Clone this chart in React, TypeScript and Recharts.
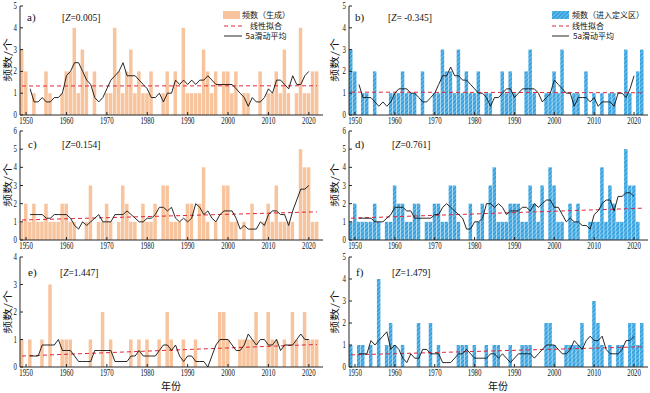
import React from 'react'
import { ComposedChart, Bar, Line, XAxis, YAxis, ReferenceLine } from 'recharts'

const SERIF = '"Liberation Serif", "Times New Roman", "Noto Sans CJK SC", serif'
const CJK = '"Noto Sans CJK SC", "Liberation Serif", serif'

const years = Array.from({ length: 74 }, (_, i) => 1949 + i)
const xTicks = [1950, 1960, 1970, 1980, 1990, 2000, 2010, 2020]

// 1949-2022, yearly counts
const genA = [
  3, 2, 0, 1, 0, 0, 2, 1, 0, 0, 1, 2, 2, 4, 1, 3, 2, 0, 2, 0,
  0, 1, 1, 4, 2, 1, 2, 3, 1, 2, 1, 1, 2, 0, 0, 1, 2, 0, 2, 0,
  4, 1, 1, 1, 1, 3, 2, 1, 2, 0, 2, 2, 1, 2, 0, 1, 1, 0, 0, 2,
  0, 1, 1, 2, 1, 3, 1, 0, 1, 4, 1, 1, 2, 2,
]
const entB = [
  3, 2, 0, 1, 1, 0, 2, 0, 0, 0, 1, 1, 1, 2, 1, 1, 1, 0, 2, 0,
  0, 1, 1, 3, 2, 2, 1, 3, 1, 2, 1, 1, 2, 0, 1, 1, 0, 0, 2, 1,
  2, 1, 0, 0, 2, 3, 1, 0, 0, 1, 1, 2, 1, 3, 0, 0, 1, 1, 0, 2,
  0, 1, 0, 1, 0, 1, 1, 0, 0, 3, 1, 0, 2, 3,
]
const genC = [
  1, 2, 1, 2, 1, 1, 2, 1, 1, 1, 2, 2, 1, 1, 0, 0, 1, 3, 0, 1,
  1, 2, 1, 0, 1, 3, 2, 1, 1, 0, 2, 1, 1, 2, 0, 3, 3, 1, 1, 1,
  0, 2, 2, 0, 2, 4, 1, 0, 1, 0, 3, 3, 1, 1, 0, 1, 0, 2, 0, 0,
  1, 2, 1, 3, 1, 1, 1, 1, 0, 5, 4, 4, 1, 1,
]
const entD = [
  1, 2, 1, 1, 1, 1, 2, 1, 0, 1, 1, 3, 2, 2, 1, 1, 2, 2, 0, 1,
  1, 2, 2, 1, 1, 3, 3, 1, 0, 0, 2, 0, 1, 2, 0, 3, 4, 1, 1, 1,
  2, 2, 2, 1, 1, 3, 2, 1, 3, 0, 4, 3, 1, 1, 0, 2, 1, 2, 0, 0,
  1, 1, 1, 4, 1, 3, 2, 1, 1, 5, 3, 3, 1, 0,
]
const genE = [
  1, 0, 1, 0, 0, 1, 0, 3, 0, 0, 1, 1, 1, 0, 0, 0, 0, 1, 0, 0,
  2, 0, 1, 0, 0, 0, 0, 1, 0, 1, 0, 1, 0, 0, 1, 0, 2, 1, 0, 0,
  1, 0, 0, 1, 0, 0, 0, 0, 0, 2, 2, 1, 0, 0, 1, 1, 1, 1, 2, 0,
  0, 2, 1, 1, 0, 1, 0, 2, 1, 0, 2, 1, 1, 1,
]
const entF = [
  1, 0, 1, 1, 0, 1, 0, 4, 0, 1, 2, 1, 0, 1, 0, 0, 0, 2, 0, 0,
  2, 0, 1, 0, 0, 0, 0, 1, 1, 1, 0, 1, 0, 0, 1, 0, 1, 1, 0, 0,
  1, 0, 0, 1, 1, 1, 0, 0, 0, 2, 2, 1, 0, 0, 1, 1, 1, 1, 2, 0,
  0, 3, 2, 1, 0, 1, 0, 1, 1, 0, 2, 2, 1, 2,
]

// linear fit, value at 1949 and at 2022
const fitA = [1.33, 1.34]
const fitB = [1.05, 1.02]
const fitC = [1.1, 1.55]
const fitD = [1.2, 1.75]
const fitE = [0.4, 0.82]
const fitF = [0.55, 0.92]

// centred 5-year running mean, same as the black curve
function runningMean(v: number[]) {
  return v.map((_, i) =>
    i < 2 || i > v.length - 3 ? null : (v[i - 2] + v[i - 1] + v[i] + v[i + 1] + v[i + 2]) / 5
  )
}

const ORANGE = '#F8C49D'
const BLUE = '#35A2DF'
const RED = '#E0283C'
const AXIS = '#262626'

function XTick(p: any) {
  return (
    <text transform={`translate(${p.x},${p.y + 6}) scale(0.72,1)`} textAnchor="middle"
      fontSize={9.5} fontFamily={SERIF} fill="#111">{p.payload.value}</text>
  )
}

function YTick(p: any) {
  return (
    <text transform={`translate(${p.x},${p.y + 3}) scale(0.72,1)`} textAnchor="end"
      fontSize={9.5} fontFamily={SERIF} fill="#111">{p.payload.value}</text>
  )
}

interface PanelProps {
  id: string
  values: number[]
  fit: number[]
  yMax: number
  left: number
  top: number
  height: number
  right?: boolean
  lastRow?: boolean
}

function Panel({ id, values, fit, yMax, left, top, height, right, lastRow }: PanelProps) {
  const ma = runningMean(values)
  const data = years.map((year, i) => ({ year, v: values[i], ma: ma[i] }))
  const yTicks = Array.from({ length: yMax + 1 }, (_, i) => i)
  const fill = right ? `url(#hatch-${id})` : ORANGE
  return (
    <div style={{ position: 'absolute', left, top }}>
      <ComposedChart width={330} height={height} data={data}
        margin={{ top: 6, right: right ? 2 : 7, bottom: 0, left: 0 }}>
        <defs>
          <pattern id={`hatch-${id}`} patternUnits="userSpaceOnUse" width="3" height="3"
            patternTransform="rotate(45)">
            <rect width="3" height="3" fill={BLUE} />
            <line x1="0" y1="0" x2="0" y2="3" stroke="#A6DAF5" strokeWidth="1.1" />
          </pattern>
        </defs>
        <XAxis dataKey="year" type="number" domain={[1948.5, 2023.5]} ticks={xTicks}
          allowDataOverflow interval={0} height={lastRow ? 26 : 15} tickSize={-3}
          tickMargin={6} tick={<XTick />} stroke={AXIS} />
        <XAxis xAxisId="top" orientation="top" dataKey="year" type="number"
          domain={[1948.5, 2023.5]} ticks={xTicks} allowDataOverflow interval={0}
          height={0} tickSize={-3} tick={false} stroke={AXIS} />
        <YAxis type="number" domain={[0, yMax]} ticks={yTicks} allowDataOverflow
          interval={0} width={right ? 29 : 20} tickSize={-3} tickMargin={6}
          tick={<YTick />} stroke={AXIS} />
        <YAxis yAxisId="right" orientation="right" type="number" domain={[0, yMax]}
          ticks={yTicks} allowDataOverflow interval={0} width={0} tickSize={-3}
          tick={false} stroke={AXIS} />
        <Bar dataKey="v" fill={fill} barSize={3.5} isAnimationActive={false} />
        <ReferenceLine segment={[{ x: 1949, y: fit[0] }, { x: 2022, y: fit[1] }]}
          stroke={RED} strokeWidth={1} strokeDasharray="4 3" />
        <Line dataKey="ma" type="linear" stroke="#111" strokeWidth={0.9} dot={false}
          activeDot={false} isAnimationActive={false} />
      </ComposedChart>
    </div>
  )
}

function Txt({ x, y, size = 10, anchor = 'start', children, font = SERIF }: any) {
  return (
    <text x={x} y={y} fontSize={size} textAnchor={anchor} fontFamily={font} fill="#111">
      {children}
    </text>
  )
}

// rotated axis title, drawn a little taller than wide like the reference
function YLabel({ x, y }: { x: number; y: number }) {
  return (
    <text transform={`translate(${x},${y}) rotate(-90) scale(1.35,1)`} fontSize={9.5}
      textAnchor="middle" dominantBaseline="middle" fontFamily={CJK} fill="#111">频数/个</text>
  )
}

function ZText({ x, y, z }: { x: number; y: number; z: string }) {
  return (
    <text x={x} y={y} fontSize={9.5} fontFamily={SERIF} fill="#111">
      [<tspan fontStyle="italic">Z</tspan>={z}]
    </text>
  )
}

export default function App() {
  return (
    <div style={{ position: 'absolute', left: 0, top: 0, width: 650, height: 393, background: '#fff' }}>
      <Panel id="a" values={genA} fit={fitA} yMax={5} left={0} top={0} height={130} />
      <Panel id="b" values={entB} fit={fitB} yMax={5} left={320} top={0} height={130} right />
      <Panel id="c" values={genC} fit={fitC} yMax={6} left={0} top={125} height={130} />
      <Panel id="d" values={entD} fit={fitD} yMax={6} left={320} top={125} height={130} right />
      <Panel id="e" values={genE} fit={fitE} yMax={4} left={0} top={251} height={142} lastRow />
      <Panel id="f" values={entF} fit={fitF} yMax={5} left={320} top={251} height={142} right lastRow />

      <svg width={650} height={393} style={{ position: 'absolute', left: 0, top: 0, pointerEvents: 'none' }}>
        <YLabel x={8} y={60} />
        <YLabel x={335} y={60} />
        <YLabel x={8} y={185} />
        <YLabel x={335} y={185} />
        <YLabel x={8} y={312} />
        <YLabel x={335} y={312} />

        <Txt x={27} y={21} size={11}>a)</Txt>
        <ZText x={62} y={21} z="0.005" />
        <Txt x={355} y={21} size={11}>b)</Txt>
        <ZText x={388} y={21} z=" -0.345" />
        <Txt x={28} y={148} size={11}>c)</Txt>
        <ZText x={62} y={148} z="0.154" />
        <Txt x={355} y={148} size={11}>d)</Txt>
        <ZText x={392} y={148} z="0.761" />
        <Txt x={28} y={276} size={11}>e)</Txt>
        <ZText x={60} y={276} z="1.447" />
        <Txt x={356} y={276} size={11}>f)</Txt>
        <ZText x={392} y={276} z="1.479" />

        {/* legend a */}
        <rect x={223} y={11} width={17} height={8} fill={ORANGE} />
        <Txt x={266} y={18} size={8} anchor="middle" font={CJK}>频数（生成）</Txt>
        <line x1={224} y1={26} x2={242} y2={26} stroke={RED} strokeDasharray="4 3" />
        <Txt x={266} y={29} size={8} anchor="middle" font={CJK}>线性拟合</Txt>
        <line x1={224} y1={36} x2={242} y2={36} stroke="#111" strokeWidth={0.9} />
        <Txt x={266} y={39} size={8} anchor="middle" font={CJK}>5a滑动平均</Txt>

        {/* legend b */}
        <rect x={552} y={11} width={17} height={8} fill="url(#hatch-b)" />
        <Txt x={572} y={18} size={8} font={CJK}>频数（进入定义区）</Txt>
        <line x1={552} y1={26} x2={569} y2={26} stroke={RED} strokeDasharray="4 3" />
        <Txt x={572} y={29} size={8} font={CJK}>线性拟合</Txt>
        <line x1={552} y1={36} x2={569} y2={36} stroke="#111" strokeWidth={0.9} />
        <Txt x={573} y={39} size={8} font={CJK}>5a滑动平均</Txt>

        <Txt x={171} y={390} size={10} anchor="middle" font={CJK}>年份</Txt>
        <Txt x={498} y={390} size={10} anchor="middle" font={CJK}>年份</Txt>
      </svg>
    </div>
  )
}
